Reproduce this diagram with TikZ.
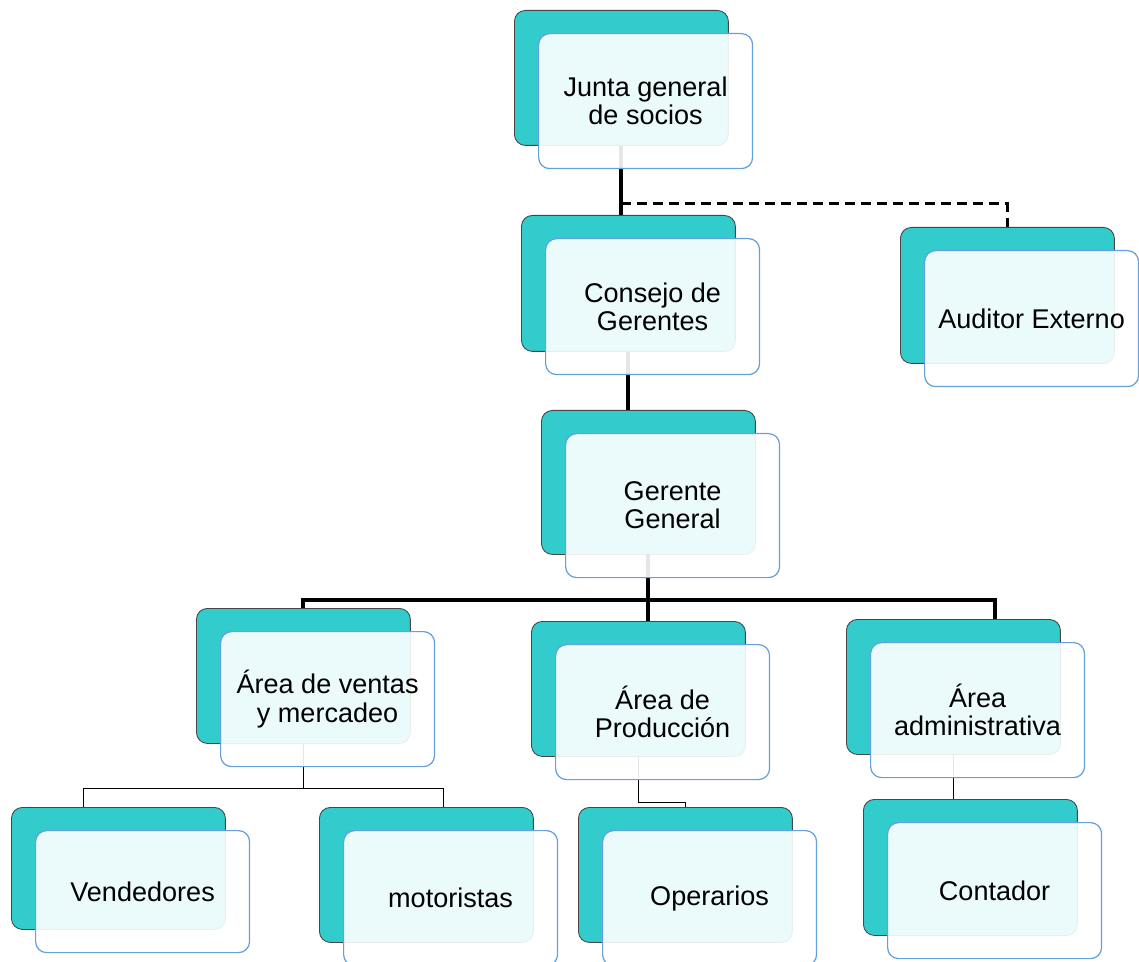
\documentclass[tikz,border=0pt]{standalone}
\usepackage{fontspec}
\setmainfont{Liberation Sans}
\definecolor{Turquesa}{RGB}{51,204,204}
\definecolor{BordeAzul}{RGB}{100,160,220}
\definecolor{BordeGris}{RGB}{70,70,70}
\usetikzlibrary{calc, backgrounds}

\begin{document}
\begin{tikzpicture}[x=0.02cm, y=-0.02cm, font=\fontsize{15.4}{16}\selectfont,
	fondo/.style={rounded corners=0.22cm, fill=Turquesa, draw=BordeGris, line width=0.5pt,
		minimum width=4.28cm, anchor=north west, inner sep=0pt},
	frente/.style={rounded corners=0.22cm, fill=white, fill opacity=0.9, text opacity=1,
		draw=BordeAzul, line width=0.7pt, minimum width=4.28cm, anchor=north west,
		align=center, inner sep=0pt},
	grueso/.style={line width=2.2pt},
	fino/.style={line width=0.7pt}]
	\useasboundingbox (0,0) rectangle (1139,962);
	\foreach \n/\x/\y/\h/\t in {
		junta/514/10/135/{Junta general\\de socios},
		consejo/521/215/136/{Consejo de\\Gerentes},
		auditor/900/227/136/{Auditor Externo},
		gerente/541/410/144/{Gerente\\General},
		ventas/196/608/135/{Área de ventas\\y mercadeo},
		prod/531/621/135/{Área de\\Producción},
		admin/846/619/135/{Área\\administrativa},
		vend/11/807/122/{Vendedores},
		moto/319/807/135/{motoristas},
		oper/578/807/135/{Operarios},
		cont/863/799/136/{Contador}}{
		\node[fondo, minimum height=\h*0.02cm] (\n-b) at (\x,\y) {};
		\node[frente, minimum height=\h*0.02cm] (\n) at (\x+24,\y+23) {\t};
	}
	\begin{scope}[on background layer]
		\draw[grueso] (junta-b.south) -- (junta-b.south |- consejo-b.north);
		\draw[line width=1.6pt, dash pattern=on 0.2cm off 0.12cm]
			($(junta-b.south)+(0,58)$) -| (auditor-b.north);
		\draw[grueso] (consejo-b.south) -- (consejo-b.south |- gerente-b.north);
		\draw[grueso] (gerente-b.south) -- (gerente-b.south |- prod-b.north);
		\draw[grueso] (ventas-b.north) |- ($(gerente-b.south)+(0,45)$) -| ($(admin-b.north)+(42,0)$);
		\draw[fino] (ventas-b.south) -- ++(0,45) coordinate (v);
		\draw[fino] ($(vend-b.north)+(-35,0)$) |- (v) -| ($(moto-b.north)+(17,0)$);
		\draw[fino] (prod-b.south) -- ++(0,46) -| (oper-b.north);
		\draw[fino] (admin-b.south) -- (admin-b.south |- cont-b.north);
	\end{scope}
\end{tikzpicture}
\end{document}
